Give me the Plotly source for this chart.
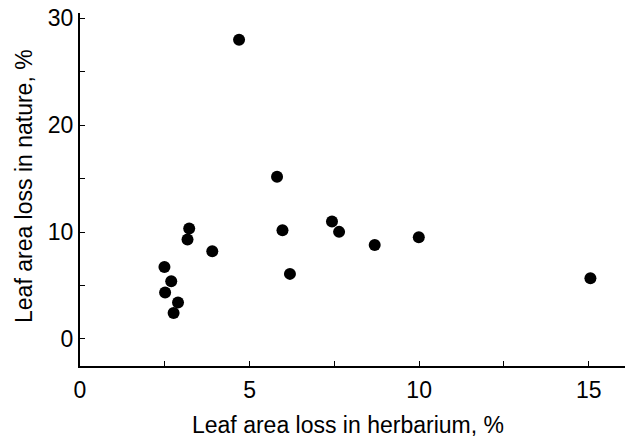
import plotly.graph_objects as go

herbarium = [4.69, 5.81, 7.43, 7.64, 8.69, 9.99, 15.05, 5.97, 6.19, 3.90,
             3.22, 3.17, 2.49, 2.69, 2.51, 2.89, 2.76]
nature = [28.0, 15.17, 10.99, 10.02, 8.80, 9.52, 5.68, 10.18, 6.09, 8.21,
          10.34, 9.31, 6.74, 5.40, 4.34, 3.41, 2.43]

x_ticks = [0, 5, 10, 15]
y_ticks = [0, 10, 20, 30]

FONT = "Liberation Sans, Arial, Helvetica, sans-serif"

fig = go.Figure()
fig.add_trace(go.Scatter(
    x=herbarium, y=nature, mode="markers",
    marker=dict(color="black", size=12, line=dict(width=0)),
    showlegend=False, hoverinfo="skip",
))

axis_common = dict(
    showgrid=False, zeroline=False, showline=True, linecolor="black",
    linewidth=2, ticks="inside", ticklen=5, tickwidth=1, tickcolor="black",
    tickfont=dict(family=FONT, size=23, color="black"), automargin=False,
)

fig.update_xaxes(
    **axis_common,
    range=[0, 16.07], tickvals=x_ticks, ticktext=[str(v) for v in x_ticks],
    ticklabelstandoff=2,
    minor=dict(tickvals=[2.5, 7.5, 12.5], ticks="inside", ticklen=5,
               tickwidth=1, tickcolor="black"),
)
fig.update_yaxes(
    **axis_common,
    range=[-2.53, 30.5], tickvals=y_ticks, ticktext=[str(v) for v in y_ticks],
    minor=dict(tickvals=[5, 15, 25], ticks="inside", ticklen=5,
               tickwidth=1, tickcolor="black"),
)

fig.add_annotation(
    text="Leaf area loss in herbarium, %", xref="paper", yref="paper",
    x=0.492, y=0, xanchor="center", yanchor="middle", yshift=-59,
    showarrow=False, font=dict(family=FONT, size=23, color="black"),
)
fig.add_annotation(
    text="Leaf area loss in nature, %", xref="paper", yref="paper",
    x=0, y=0.51, xanchor="center", yanchor="middle", xshift=-56,
    textangle=-90, showarrow=False,
    font=dict(family=FONT, size=23, color="black"),
)

fig.update_layout(
    width=625, height=437,
    margin=dict(l=80, r=0, t=13, b=71),
    plot_bgcolor="white", paper_bgcolor="white",
)

# Remove the browser's default 8px body margin so the figure sits at (0, 0).
fig.write_html(
    "out.html",
    config={"displayModeBar": False, "staticPlot": True},
    post_script="document.body.style.margin='0';document.body.style.overflow='hidden';",
)
